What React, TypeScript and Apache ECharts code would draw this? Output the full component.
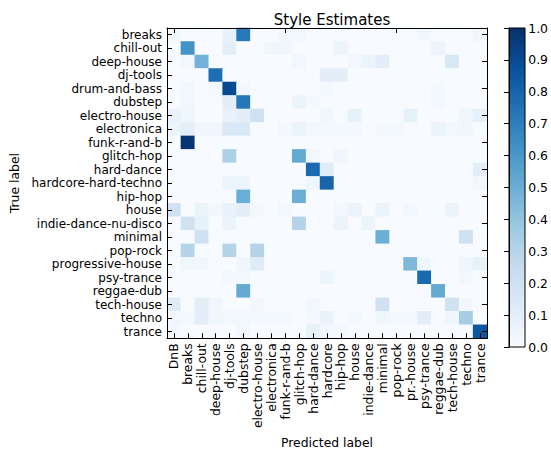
import React, { useEffect, useRef } from 'react';
import * as echarts from 'echarts';

const xLabels = ['DnB', 'breaks', 'chill-out', 'deep-house', 'dj-tools', 'dubstep', 'electro-house', 'electronica', 'funk-r-and-b', 'glitch-hop', 'hard-dance', 'hardcore', 'hip-hop', 'house', 'indie-dance', 'minimal', 'pop-rock', 'pr.-house', 'psy-trance', 'reggae-dub', 'tech-house', 'techno', 'trance'];
const yLabels = ['breaks', 'chill-out', 'deep-house', 'dj-tools', 'drum-and-bass', 'dubstep', 'electro-house', 'electronica', 'funk-r-and-b', 'glitch-hop', 'hard-dance', 'hardcore-hard-techno', 'hip-hop', 'house', 'indie-dance-nu-disco', 'minimal', 'pop-rock', 'progressive-house', 'psy-trance', 'reggae-dub', 'tech-house', 'techno', 'trance'];

const matrix: number[][] = [
  [0.03, 0, 0, 0, 0.08, 0.72, 0, 0, 0.03, 0.03, 0, 0, 0, 0, 0, 0, 0, 0, 0.03, 0, 0, 0, 0.03],
  [0, 0.62, 0, 0, 0.1, 0, 0, 0.04, 0.04, 0, 0, 0, 0.05, 0, 0, 0, 0, 0, 0, 0.05, 0, 0, 0],
  [0, 0.03, 0.48, 0, 0, 0, 0, 0, 0, 0.03, 0, 0, 0, 0.03, 0.06, 0.1, 0, 0, 0, 0, 0.15, 0, 0],
  [0, 0, 0, 0.76, 0, 0, 0, 0, 0, 0, 0, 0.1, 0.1, 0, 0, 0, 0, 0, 0, 0, 0, 0, 0],
  [0, 0.03, 0, 0.02, 0.9, 0.02, 0, 0, 0, 0, 0, 0.02, 0, 0, 0, 0, 0, 0, 0, 0.02, 0, 0, 0],
  [0, 0.03, 0, 0, 0.1, 0.73, 0, 0, 0, 0.06, 0.02, 0, 0, 0, 0, 0, 0, 0, 0, 0.02, 0, 0, 0],
  [0.07, 0.04, 0, 0, 0.07, 0.1, 0.2, 0, 0, 0, 0, 0.04, 0, 0.08, 0, 0, 0, 0.08, 0, 0, 0, 0.04, 0.08],
  [0.06, 0.1, 0.04, 0.04, 0.15, 0.15, 0, 0, 0.02, 0.06, 0.03, 0.02, 0.02, 0.02, 0, 0.02, 0.02, 0, 0, 0.06, 0.03, 0.04, 0],
  [0, 0.98, 0, 0, 0, 0, 0, 0, 0, 0, 0, 0, 0, 0, 0, 0, 0, 0, 0, 0, 0, 0, 0],
  [0, 0, 0, 0, 0.33, 0, 0, 0, 0, 0.52, 0.03, 0, 0.04, 0, 0, 0, 0, 0, 0, 0, 0, 0, 0],
  [0, 0, 0, 0, 0, 0, 0, 0, 0, 0, 0.78, 0.12, 0, 0, 0, 0, 0, 0, 0, 0, 0, 0, 0.1],
  [0, 0, 0, 0, 0.05, 0.05, 0, 0, 0, 0, 0.04, 0.8, 0, 0, 0, 0, 0, 0, 0, 0, 0, 0, 0.03],
  [0, 0, 0, 0, 0, 0.5, 0, 0, 0, 0.5, 0, 0, 0, 0, 0, 0, 0, 0, 0, 0, 0, 0, 0],
  [0.2, 0, 0.06, 0.03, 0.07, 0.1, 0.03, 0, 0.03, 0, 0, 0, 0.03, 0.06, 0, 0.06, 0, 0.03, 0, 0, 0.06, 0, 0],
  [0, 0.2, 0.08, 0, 0.06, 0, 0, 0, 0, 0.3, 0, 0, 0.06, 0, 0.06, 0, 0, 0, 0, 0, 0, 0, 0],
  [0, 0, 0.2, 0, 0, 0, 0, 0, 0, 0, 0, 0, 0, 0, 0, 0.5, 0, 0, 0, 0, 0, 0.2, 0],
  [0, 0.3, 0, 0, 0.3, 0, 0.3, 0, 0, 0, 0, 0, 0, 0, 0, 0, 0, 0, 0, 0, 0, 0, 0],
  [0, 0.04, 0.04, 0, 0, 0.04, 0.12, 0, 0, 0, 0, 0, 0, 0, 0, 0, 0, 0.45, 0.04, 0, 0, 0.04, 0.08],
  [0, 0, 0, 0, 0.03, 0.02, 0, 0, 0, 0, 0, 0.05, 0, 0, 0, 0, 0, 0, 0.78, 0, 0, 0.03, 0],
  [0, 0, 0, 0, 0, 0.52, 0, 0, 0, 0, 0, 0, 0, 0, 0, 0, 0, 0, 0, 0.52, 0, 0, 0],
  [0.12, 0, 0.1, 0.04, 0, 0, 0.03, 0, 0, 0, 0.03, 0, 0, 0, 0, 0.2, 0, 0, 0, 0, 0.2, 0.03, 0],
  [0.03, 0.02, 0.1, 0.04, 0.03, 0.03, 0.02, 0.02, 0.02, 0, 0.02, 0.07, 0, 0.02, 0, 0.04, 0.02, 0.02, 0.1, 0, 0.04, 0.35, 0],
  [0.02, 0, 0, 0, 0, 0.03, 0, 0, 0, 0, 0.08, 0.03, 0.02, 0, 0, 0, 0, 0, 0, 0, 0, 0, 0.85],
];

const blues = ['#f7fbff', '#deebf7', '#c6dbef', '#9ecae1', '#6baed6', '#4292c6', '#2171b5', '#08519c', '#08306b'];

const FONT = 'DejaVu Sans';
const FS = 12.4;
const FSY = 12;

export default function App() {
  const ref = useRef<HTMLDivElement>(null);
  useEffect(() => {
    document.body.style.margin = '0';
    if (!ref.current) return;
    const chart = echarts.init(ref.current, undefined, { renderer: 'svg' });
    const data: number[][] = [];
    matrix.forEach((row, r) => row.forEach((v, c) => data.push([c, r, v])));
    const lineStyle = { color: '#000', width: 1 };
    const tick = { show: true, inside: true, alignWithLabel: true, length: 5, lineStyle };
    const gradient = new echarts.graphic.LinearGradient(0, 1, 0, 0,
      blues.map((c, i) => ({ offset: i / (blues.length - 1), color: c })));
    chart.setOption({
      animation: false,
      textStyle: { fontFamily: FONT },
      title: {
        text: 'Style Estimates', left: 327, top: 7, textAlign: 'center',
        textStyle: { fontSize: 15, fontWeight: 'normal', color: '#000', fontFamily: FONT },
      },
      grid: [
        { left: 167, top: 28, width: 320, height: 320 },
        { left: 509, top: 28, width: 16, height: 319 },
      ],
      xAxis: [
        {
          type: 'category', gridIndex: 0, data: xLabels, position: 'bottom', z: 10,
          axisLine: { show: true, lineStyle }, axisTick: tick,
          axisLabel: { rotate: 90, fontSize: FS, lineHeight: 12, color: '#000', margin: 5, interval: 0, fontFamily: FONT },
          splitLine: { show: false },
          name: 'Predicted label', nameLocation: 'middle', nameGap: 60,
          nameTextStyle: { fontSize: FS, color: '#000', fontFamily: FONT },
        },
        {
          type: 'category', gridIndex: 0, data: xLabels, position: 'top', z: 10,
          axisLine: { show: true, lineStyle }, axisTick: tick, axisLabel: { show: false },
          splitLine: { show: false },
        },
        { type: 'value', gridIndex: 1, show: false, min: 0, max: 1 },
      ],
      yAxis: [
        {
          type: 'category', gridIndex: 0, data: yLabels, inverse: true, position: 'left', z: 10,
          axisLine: { show: true, lineStyle }, axisTick: tick,
          axisLabel: { fontSize: FSY, lineHeight: 12, color: '#000', margin: 5, interval: 0, fontFamily: FONT },
          splitLine: { show: false },
          name: 'True label', nameLocation: 'middle', nameGap: 142,
          nameTextStyle: { fontSize: FS, color: '#000', fontFamily: FONT },
        },
        {
          type: 'category', gridIndex: 0, data: yLabels, inverse: true, position: 'right', z: 10,
          axisLine: { show: true, lineStyle }, axisTick: tick, axisLabel: { show: false },
          splitLine: { show: false },
        },
        {
          type: 'value', gridIndex: 1, position: 'right', min: 0, max: 1, interval: 0.1, z: 10,
          axisLine: { show: true, lineStyle },
          axisTick: { show: true, inside: true, length: 5, lineStyle },
          axisLabel: { fontSize: FS, color: '#000', margin: 5, fontFamily: FONT, formatter: (v: number) => v.toFixed(1) },
          splitLine: { show: false },
        },
      ],
      visualMap: {
        show: false, type: 'continuous', min: 0, max: 1, seriesIndex: 0, dimension: 2,
        inRange: { color: blues },
      },
      series: [
        {
          type: 'heatmap', xAxisIndex: 0, yAxisIndex: 0, data,
          emphasis: { disabled: true }, progressive: 0,
        },
      ],
      graphic: [
        {
          type: 'rect', z: -1,
          shape: { x: 509, y: 28, width: 16, height: 319 },
          style: { fill: gradient, stroke: '#000', lineWidth: 1 },
        },
      ],
    });
    return () => chart.dispose();
  }, []);
  return <div ref={ref} style={{ width: 551, height: 453 }} />;
}
